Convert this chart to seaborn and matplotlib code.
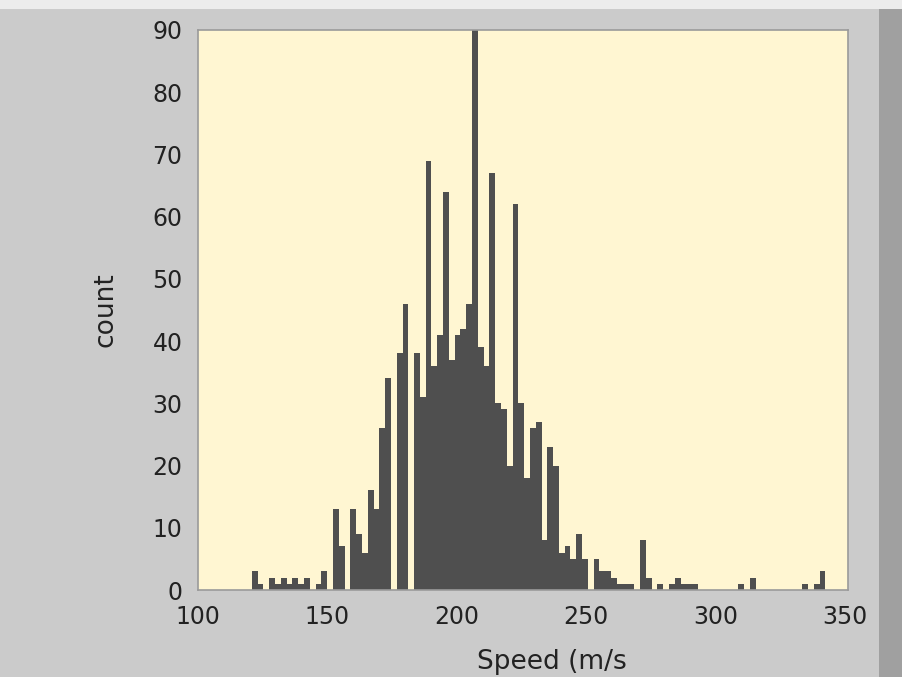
import numpy as np
import pandas as pd
import seaborn as sns
import matplotlib
matplotlib.use("Agg")
import matplotlib.pyplot as plt
from matplotlib.patches import Rectangle

# histogram counts, one per bin (99 bins)
counts = [3, 1, 0, 2, 1, 2, 1, 2, 1, 2,
          0, 1, 3, 0, 13, 7, 0, 13, 9, 6,
          16, 13, 26, 34, 0, 38, 46, 0, 38, 31,
          69, 36, 41, 64, 37, 41, 42, 46, 90, 39,
          36, 67, 30, 29, 20, 62, 30, 18, 26, 27,
          8, 23, 20, 6, 7, 5, 9, 5, 0, 5,
          3, 3, 2, 1, 1, 1, 0, 8, 2, 0,
          1, 0, 1, 2, 1, 1, 1, 0, 0, 0,
          0, 0, 0, 0, 1, 0, 2, 0, 0, 0,
          0, 0, 0, 0, 0, 1, 0, 1, 3]
speed_min = 120.9
speed_max = 342.3
x_ticks = [100, 150, 200, 250, 300, 350]
y_ticks = [0, 10, 20, 30, 40, 50, 60, 70, 80, 90]

edges = np.linspace(speed_min, speed_max, len(counts) + 1)
df = pd.DataFrame({"speed": (edges[:-1] + edges[1:]) / 2, "count": counts})

sns.set_style("white")
plt.rcParams["font.family"] = ["DejaVu Sans"]

fig = plt.figure(figsize=(9.03, 6.77), dpi=100, facecolor="#cbcbcb")
# darker strip at the right edge, lighter strip at the top
fig.patches.append(Rectangle((0.973, 0), 0.027, 1, transform=fig.transFigure,
                             facecolor="#a0a0a0", edgecolor="none", zorder=0))
fig.patches.append(Rectangle((0, 0.986), 1, 0.014, transform=fig.transFigure,
                             facecolor="#ececec", edgecolor="none", zorder=0))

ax = fig.add_axes([0.219, 0.1285, 0.720, 0.8275])
ax.set_facecolor("#fff6d2")

sns.histplot(data=df, x="speed", weights="count", bins=len(counts),
             binrange=(speed_min, speed_max), color="#4f4f4f",
             alpha=1, linewidth=0, edgecolor="none", ax=ax)

ax.set_xlim(100, 351)
ax.set_ylim(0, 90)
ax.set_xticks(x_ticks)
ax.set_yticks(y_ticks)
ax.tick_params(axis="both", labelsize=17, colors="#222222", direction="out",
               length=8, width=1.3, pad=3)

for side in ["top", "right", "left", "bottom"]:
    ax.spines[side].set_color("#9a9a9a")
    ax.spines[side].set_linewidth(1.2)

ax.set_ylabel("count", fontsize=19, color="#222222")
ax.yaxis.set_label_coords(-0.122, 0.5)
ax.set_xlabel("Speed (m/s", fontsize=19, color="#222222", va="top")
ax.xaxis.set_label_coords(0.545, -0.106)

fig.savefig("out.png", dpi=100, facecolor=fig.get_facecolor())
